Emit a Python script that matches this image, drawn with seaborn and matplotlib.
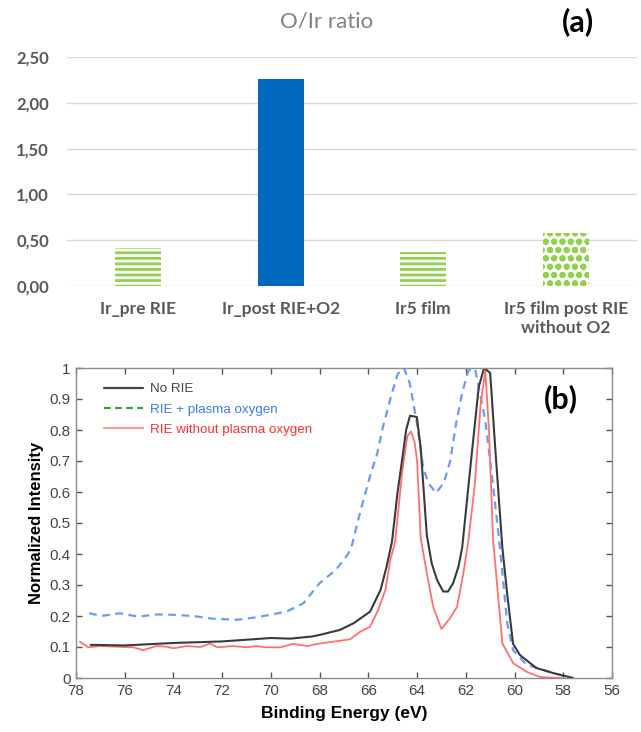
import numpy as np
import pandas as pd
import matplotlib
matplotlib.use("Agg")
import matplotlib.pyplot as plt
from matplotlib.lines import Line2D
import seaborn as sns

# ---------------- data: panel (a) ----------------
categories = ["Ir_pre RIE", "Ir_post RIE+O2", "Ir5 film", "Ir5 film post RIE\nwithout O2"]
ratios = [0.42, 2.26, 0.37, 0.58]
bar_colors = ["#92D050", "#0068BF", "#92D050", "#92D050"]
bar_hatches = ["---", "", "---", "oo"]
ytick_values = [0.0, 0.5, 1.0, 1.5, 2.0, 2.5]
ytick_labels = ["0,00", "0,50", "1,00", "1,50", "2,00", "2,50"]

# ---------------- data: panel (b) ----------------
noRIE_E = [77.4, 76.0, 74.0, 72.0, 70.0, 69.2, 68.3, 68.0, 67.17, 66.6, 65.93, 65.5,
           65.25, 65.03, 64.8, 64.62, 64.45, 64.29, 64.01, 63.85, 63.6, 63.4, 63.18,
           62.93, 62.73, 62.52, 62.3, 62.15, 61.8, 61.47, 61.25, 61.0, 60.8, 60.5,
           60.3, 60.06, 59.78, 59.1, 58.42, 57.6]
noRIE_I = [0.107, 0.105, 0.113, 0.118, 0.129, 0.127, 0.134, 0.139, 0.155, 0.177, 0.214, 0.284,
           0.36, 0.44, 0.60, 0.70, 0.80, 0.846, 0.842, 0.74, 0.46, 0.37, 0.316,
           0.279, 0.279, 0.306, 0.36, 0.42, 0.69, 0.939, 1.0, 0.984, 0.75, 0.42,
           0.27, 0.11, 0.074, 0.032, 0.016, 0.0]

plasma_E = [77.46, 76.96, 76.2, 75.45, 74.7, 74.03, 73.19, 72.36, 71.35, 70.68, 70.01,
            69.34, 68.67, 68.0, 67.33, 66.83, 66.67, 66.32, 65.9, 65.65, 65.4, 65.03,
            64.8, 64.54, 64.3, 64.0, 63.75, 63.55, 63.22, 62.9, 62.64, 62.4, 62.15,
            61.9, 61.76, 61.6, 61.42, 61.2, 60.88, 60.6, 60.3, 60.06, 59.5, 58.95,
            58.42, 57.6]
plasma_I = [0.209, 0.200, 0.209, 0.198, 0.205, 0.204, 0.200, 0.191, 0.188, 0.195, 0.204,
            0.215, 0.241, 0.306, 0.349, 0.40, 0.43, 0.54, 0.66, 0.72, 0.81, 0.92,
            0.98, 1.0, 0.95, 0.82, 0.68, 0.63, 0.597, 0.63, 0.70, 0.82, 0.92,
            0.99, 1.0, 0.99, 0.92, 0.83, 0.62, 0.42, 0.177, 0.09, 0.042, 0.03,
            0.016, 0.0]

noO2_E = [77.84, 77.5, 77.0, 76.3, 75.65, 75.25, 74.7, 74.3, 74.0, 73.45, 72.9, 72.5,
          72.2, 71.55, 71.0, 70.6, 70.2, 69.6, 69.1, 68.5, 68.1, 67.45, 66.75, 66.34,
          65.93, 65.6, 65.3, 65.1, 64.9, 64.62, 64.4, 64.25, 64.1, 64.0, 63.85, 63.6,
          63.34, 63.0, 62.64, 62.36, 62.1, 61.9, 61.64, 61.39, 61.2, 61.05, 60.88,
          60.5, 60.06, 59.5, 58.95, 58.1]
noO2_I = [0.117, 0.099, 0.103, 0.101, 0.099, 0.090, 0.103, 0.101, 0.096, 0.103, 0.100, 0.111,
          0.099, 0.103, 0.099, 0.103, 0.099, 0.099, 0.110, 0.103, 0.110, 0.117, 0.125, 0.149,
          0.165, 0.219, 0.284, 0.38, 0.44, 0.66, 0.78, 0.795, 0.76, 0.70, 0.45, 0.338,
          0.23, 0.158, 0.194, 0.23, 0.338, 0.44, 0.617, 0.885, 0.99, 0.80, 0.445,
          0.112, 0.048, 0.020, 0.003, 0.0]

legend_labels = ["No RIE", "RIE + plasma oxygen", "RIE without plasma oxygen"]
xticks_b = [78, 76, 74, 72, 70, 68, 66, 64, 62, 60, 58, 56]
yticks_b = [0, 0.1, 0.2, 0.3, 0.4, 0.5, 0.6, 0.7, 0.8, 0.9, 1]
ytick_labels_b = ["0", "0.1", "0.2", "0.3", "0.4", "0.5", "0.6", "0.7", "0.8", "0.9", "1"]

# ---------------- styling ----------------
sns.set_theme(style="white")
plt.rcParams["font.family"] = ["Liberation Sans", "DejaVu Sans"]
plt.rcParams["hatch.linewidth"] = 2.0

fig = plt.figure(figsize=(6.41, 7.32), dpi=100)

# ---------------- panel (a) ----------------
ax1 = fig.add_axes([67 / 641, 1 - 286 / 732, 570 / 641, 229 / 732])
df_a = pd.DataFrame({"cat": categories, "ratio": ratios})
sns.barplot(data=df_a, x="cat", y="ratio", hue="cat", palette=bar_colors,
            saturation=1, legend=False, width=0.32, ax=ax1, zorder=3)
for patch, col, h in zip(ax1.patches, bar_colors, bar_hatches):
    if h:
        patch.set_facecolor("white")
        patch.set_edgecolor(col)
        patch.set_hatch(h)
    patch.set_linewidth(0)
ax1.set_xlim(-0.5, 3.5)
ax1.set_ylim(0, 2.5)
ax1.set_yticks(ytick_values)
ax1.set_yticklabels(ytick_labels)
ax1.yaxis.grid(True, color="#d9d9d9", linewidth=1.0, zorder=0)
ax1.set_axisbelow(True)
for s in ax1.spines.values():
    s.set_visible(False)
ax1.set_xlabel("")
ax1.set_ylabel("")
ax1.tick_params(axis="y", length=0, pad=13, labelsize=12, labelcolor="#595959")
ax1.tick_params(axis="x", length=0, pad=11, labelsize=12.5, labelcolor="#595959")
for lbl in ax1.get_yticklabels() + ax1.get_xticklabels():
    lbl.set_fontfamily(["Lato", "DejaVu Sans"])
    lbl.set_fontweight("bold")
fig.text(327 / 641, 1 - 21 / 732, "O/Ir ratio", ha="center", va="center",
         fontsize=16, color="#808080", family=["Lato", "DejaVu Sans"])
fig.text(578 / 641, 1 - 22 / 732, "(a)", ha="center", va="center",
         fontsize=22, fontweight="bold", color="black", family=["Lato", "DejaVu Sans"])

# ---------------- panel (b) ----------------
ax2 = fig.add_axes([76 / 641, 1 - 678 / 732, 536 / 641, 310 / 732])
sns.lineplot(x=plasma_E, y=plasma_I, ax=ax2, color="#6a9cf7", linewidth=1.6,
             linestyle=(0, (3.5, 2.5)), sort=False, estimator=None)
sns.lineplot(x=noO2_E, y=noO2_I, ax=ax2, color="#ff7070", linewidth=1.3,
             sort=False, estimator=None)
sns.lineplot(x=noRIE_E, y=noRIE_I, ax=ax2, color="#3a3a3a", linewidth=1.5,
             sort=False, estimator=None)
ax2.set_xlim(78, 56)
ax2.set_ylim(0, 1)
ax2.set_xticks(xticks_b)
ax2.set_yticks(yticks_b)
ax2.set_yticklabels(ytick_labels_b)
for s in ax2.spines.values():
    s.set_color("#8c8c8c")
    s.set_linewidth(1.0)
ax2.tick_params(direction="in", length=4, width=1, color="#555555",
                top=True, right=True, bottom=True, left=True,
                labelsize=11, labelcolor="#444444", pad=4)
ax2.set_xlabel("Binding Energy (eV)", fontsize=12.5, fontweight="bold", color="black", labelpad=6)
ax2.set_ylabel("Normalized Intensity", fontsize=12, fontweight="bold", color="black", labelpad=4)

handles = [Line2D([], [], color="#444444", linewidth=1.6),
           Line2D([], [], color="#33a033", linewidth=1.6, linestyle=(0, (3, 2))),
           Line2D([], [], color="#ff9a9a", linewidth=1.6)]
leg = ax2.legend(handles, legend_labels, loc="upper left", frameon=False,
                 fontsize=9.6, handlelength=2.9, handletextpad=0.55,
                 labelspacing=0.6, bbox_to_anchor=(0.03, 0.99))
for txt, c in zip(leg.get_texts(), ["#444444", "#3b7cf0", "#ff3030"]):
    txt.set_color(c)
ax2.text(0.905, 0.9, "(b)", transform=ax2.transAxes, ha="center", va="center",
         fontsize=22, fontweight="bold", color="black", family=["Lato", "DejaVu Sans"])

fig.savefig("out.png", dpi=100)
